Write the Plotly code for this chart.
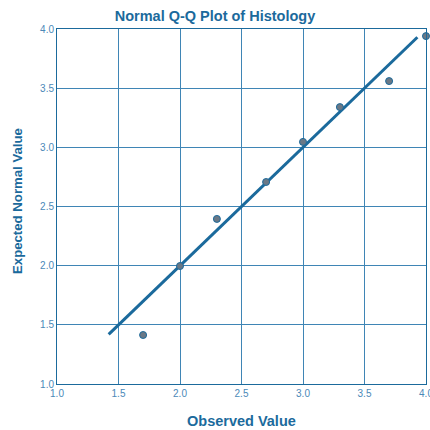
import plotly.graph_objects as go

observed = [1.7, 2.0, 2.3, 2.7, 3.0, 3.3, 3.7, 4.0]
expected = [1.414, 1.997, 2.395, 2.707, 3.046, 3.34, 3.56, 3.94]
line_x = [1.42, 3.93]
line_y = [1.42, 3.93]
ticks = [1.0, 1.5, 2.0, 2.5, 3.0, 3.5, 4.0]
tick_text = ["1.0", "1.5", "2.0", "2.5", "3.0", "3.5", "4.0"]

blue = "#1b6a9c"
grid = "#3f85b5"
label_c = "#4b89b8"

fig = go.Figure()
fig.add_trace(go.Scatter(x=line_x, y=line_y, mode="lines",
                         line=dict(color=blue, width=3), hoverinfo="skip",
                         showlegend=False))
fig.add_trace(go.Scatter(x=observed, y=expected, mode="markers", cliponaxis=False,
                         marker=dict(size=7, color="#6a7886",
                                     line=dict(color=blue, width=1)),
                         showlegend=False))

# plot area in page pixels: x 57..426, y 29..384
fig.update_layout(
    width=430, height=430,
    margin=dict(l=57, r=4, t=29, b=46, autoexpand=False),
    paper_bgcolor="white", plot_bgcolor="white",
    font=dict(family="Liberation Sans, Arial, sans-serif"),
    title=dict(text="<b>Normal Q-Q Plot of Histology</b>", x=215 / 430, xanchor="center",
               y=1 - 16 / 430, yanchor="middle",
               font=dict(size=14.5, color=blue)),
    xaxis=dict(range=[1.0, 4.0], tickvals=ticks, ticktext=tick_text,
               showgrid=True, gridcolor=grid, gridwidth=1,
               showline=True, linecolor=blue, linewidth=1, mirror=True,
               zeroline=False, ticks="", ticklen=0, ticklabeloverflow="allow",
               tickfont=dict(size=10, color=label_c)),
    yaxis=dict(range=[1.0, 4.0], tickvals=ticks, ticktext=tick_text,
               showgrid=True, gridcolor=grid, gridwidth=1,
               showline=True, linecolor=blue, linewidth=1, mirror=True,
               zeroline=False, ticks="", ticklen=0, ticklabeloverflow="allow",
               tickfont=dict(size=10, color=label_c)),
    annotations=[
        dict(text="<b>Observed Value</b>", xref="paper", yref="paper",
             x=(241 - 57) / 369, y=(384 - 421) / 355, xanchor="center", yanchor="middle",
             showarrow=False, font=dict(size=14.5, color=blue)),
        dict(text="<b>Expected Normal Value</b>", xref="paper", yref="paper",
             x=(17 - 57) / 369, y=(384 - 201) / 355, xanchor="center", yanchor="middle",
             textangle=-90, showarrow=False, font=dict(size=13.2, color=blue)),
    ],
)

fig.write_html("out.html", config={"displayModeBar": False},
               post_script="document.body.style.margin='0';document.body.style.overflow='hidden';")
